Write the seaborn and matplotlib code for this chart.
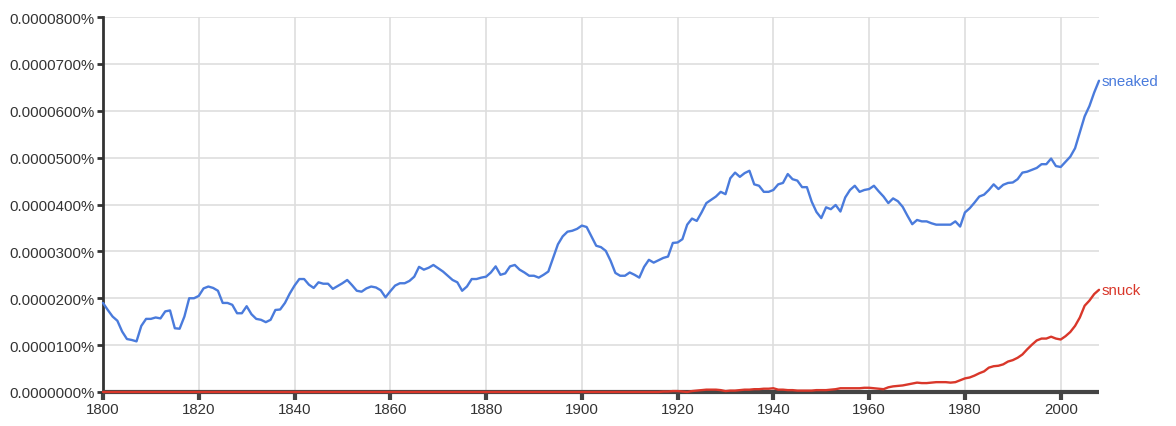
import numpy as np
import pandas as pd
import matplotlib
matplotlib.use("Agg")
import matplotlib.pyplot as plt
import seaborn as sns

# values in units of 0.0000001 %
years = np.arange(1800, 2009)
sneaked = [
    1.90, 1.75, 1.61, 1.52, 1.29, 1.13, 1.11, 1.08, 1.41, 1.56,   # 1800s
    1.56, 1.59, 1.57, 1.72, 1.74, 1.36, 1.35, 1.61, 2.00, 2.00,   # 1810s
    2.05, 2.21, 2.25, 2.22, 2.16, 1.90, 1.90, 1.86, 1.68, 1.68,   # 1820s
    1.83, 1.66, 1.56, 1.54, 1.49, 1.54, 1.75, 1.76, 1.90, 2.10,   # 1830s
    2.27, 2.41, 2.41, 2.29, 2.22, 2.34, 2.31, 2.31, 2.20, 2.26,   # 1840s
    2.32, 2.39, 2.28, 2.16, 2.14, 2.21, 2.25, 2.23, 2.17, 2.02,   # 1850s
    2.15, 2.27, 2.32, 2.32, 2.37, 2.46, 2.67, 2.61, 2.65, 2.71,   # 1860s
    2.64, 2.57, 2.48, 2.39, 2.34, 2.16, 2.25, 2.41, 2.41, 2.44,   # 1870s
    2.46, 2.55, 2.68, 2.50, 2.53, 2.68, 2.71, 2.61, 2.55, 2.48,   # 1880s
    2.48, 2.44, 2.50, 2.57, 2.86, 3.15, 3.32, 3.42, 3.44, 3.48,   # 1890s
    3.55, 3.52, 3.32, 3.12, 3.09, 3.01, 2.80, 2.54, 2.48, 2.48,   # 1900s
    2.55, 2.50, 2.44, 2.67, 2.82, 2.76, 2.81, 2.86, 2.89, 3.18,   # 1910s
    3.19, 3.26, 3.57, 3.70, 3.65, 3.83, 4.03, 4.10, 4.17, 4.27,   # 1920s
    4.22, 4.56, 4.68, 4.59, 4.67, 4.72, 4.43, 4.40, 4.27, 4.27,   # 1930s
    4.31, 4.43, 4.46, 4.65, 4.54, 4.51, 4.37, 4.37, 4.06, 3.84,   # 1940s
    3.71, 3.94, 3.90, 3.99, 3.85, 4.15, 4.31, 4.40, 4.27, 4.31,   # 1950s
    4.33, 4.40, 4.28, 4.17, 4.03, 4.13, 4.07, 3.95, 3.76, 3.58,   # 1960s
    3.67, 3.64, 3.64, 3.60, 3.57, 3.57, 3.57, 3.57, 3.64, 3.53,   # 1970s
    3.83, 3.92, 4.04, 4.17, 4.21, 4.31, 4.43, 4.33, 4.42, 4.46,   # 1980s
    4.47, 4.54, 4.68, 4.70, 4.74, 4.78, 4.86, 4.86, 4.98, 4.82,   # 1990s
    4.80, 4.91, 5.02, 5.20, 5.54, 5.88, 6.10, 6.39, 6.64,         # 2000s
]

snuck_years = [1800] + list(range(1916, 2009))
snuck = [0.00] + [
    0.00, 0.01, 0.01, 0.02, 0.02, 0.01, 0.00, 0.02, 0.03, 0.04,   # 1916-1925
    0.05, 0.05, 0.05, 0.04, 0.02, 0.03, 0.03, 0.04, 0.05, 0.05,   # 1926-1935
    0.06, 0.06, 0.07, 0.07, 0.08, 0.05, 0.05, 0.04, 0.04, 0.03,   # 1936-1945
    0.03, 0.03, 0.03, 0.04, 0.04, 0.04, 0.05, 0.06, 0.08, 0.08,   # 1946-1955
    0.08, 0.08, 0.08, 0.09, 0.09, 0.08, 0.07, 0.06, 0.10, 0.12,   # 1956-1965
    0.13, 0.14, 0.16, 0.18, 0.20, 0.19, 0.19, 0.20, 0.21, 0.21,   # 1966-1975
    0.21, 0.20, 0.21, 0.25, 0.29, 0.31, 0.35, 0.40, 0.44, 0.52,   # 1976-1985
    0.55, 0.56, 0.59, 0.65, 0.68, 0.73, 0.80, 0.91, 1.01, 1.10,   # 1986-1995
    1.14, 1.14, 1.18, 1.14, 1.12, 1.19, 1.28, 1.41, 1.59, 1.84,   # 1996-2005
    1.95, 2.09, 2.18,                                             # 2006-2008
]

x_ticks = list(range(1800, 2001, 20))
y_ticks = list(range(0, 9))

blue = "#4a7bdc"
red = "#d9372a"

sns.set_style("white")
plt.rcParams["font.family"] = ["Liberation Sans", "DejaVu Sans"]

fig = plt.figure(figsize=(11.76, 4.27), dpi=100)
ax = fig.add_axes([103 / 1176, 34 / 427, 996 / 1176, 375 / 427])

sns.lineplot(x=years, y=sneaked, color=blue, lw=1.7, ax=ax, zorder=3)
sns.lineplot(x=snuck_years, y=snuck, color=red, lw=1.7, ax=ax, zorder=4)
for ln in ax.get_lines():
    ln.set_clip_on(False)

ax.set_xlim(1800, 2008)
ax.set_ylim(0, 8)
ax.set_xticks(x_ticks)
ax.set_yticks(y_ticks)
ax.set_yticklabels([f"{v * 1e-5:.7f}%" for v in y_ticks])
ax.grid(True, color="#dedede", lw=1.2)
ax.set_axisbelow(True)

for s in ["top", "right"]:
    ax.spines[s].set_visible(False)
ax.spines["left"].set_color("#333333")
ax.spines["left"].set_linewidth(2)
ax.spines["bottom"].set_color("#444444")
ax.spines["bottom"].set_linewidth(3)
ax.spines["bottom"].set_capstyle("butt")
ax.tick_params(axis="y", length=4, width=2, color="#333333", labelsize=10.8,
               labelcolor="#333333", pad=2, left=True)
ax.tick_params(axis="x", length=6, width=3, color="#444444", labelsize=10.8,
               labelcolor="#333333", pad=1, bottom=True)

ax.annotate("sneaked", (years[-1], sneaked[-1]), xytext=(2, 0),
            textcoords="offset points", color=blue, fontsize=10.8,
            va="center", ha="left", annotation_clip=False)
ax.annotate("snuck", (snuck_years[-1], snuck[-1]), xytext=(2, 0),
            textcoords="offset points", color=red, fontsize=10.8,
            va="center", ha="left", annotation_clip=False)

plt.savefig("out.png", dpi=100)
